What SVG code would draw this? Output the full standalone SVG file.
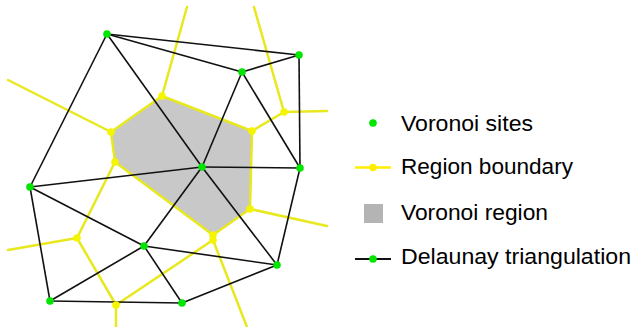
<svg xmlns="http://www.w3.org/2000/svg" width="634" height="327" viewBox="0 0 634 327">
<style>
.vor{stroke:#e8e81e;stroke-width:2.5;fill:none;stroke-linecap:round;stroke-linejoin:round}
.del{stroke:#111;stroke-width:1.6;fill:none}
.site{fill:#00e600}
.vv{fill:#f5f500}
.lbl{font-family:"Liberation Sans",Arial,sans-serif;font-size:22px;fill:#000}
</style>
<rect width="634" height="327" fill="#fff"/>
<g id="region">
<polygon points="162,96 252,131 250,209 213,235 115,162 111,132" fill="#c8c8c8"/>
</g>
<g id="voronoi-edges" class="vor">
<line x1="162" y1="96" x2="187" y2="7"/>
<line x1="111" y1="132" x2="8" y2="80"/>
<line x1="284" y1="112" x2="254" y2="7"/>
<line x1="284" y1="112" x2="327" y2="111"/>
<line x1="252" y1="131" x2="284" y2="112"/>
<polyline points="162,96 252,131 250,209 213,235 115,162 111,132 162,96"/>
<line x1="250" y1="209" x2="327" y2="226"/>
<line x1="115" y1="162" x2="77" y2="238"/>
<line x1="77" y1="238" x2="8" y2="250"/>
<line x1="77" y1="238" x2="116" y2="305"/>
<line x1="116" y1="305" x2="116" y2="327"/>
<line x1="116" y1="305" x2="213" y2="240"/>
<line x1="213" y1="235" x2="213" y2="240"/>
<line x1="213" y1="240" x2="247" y2="327"/>
</g>
<g id="delaunay-edges" class="del">
<line x1="107" y1="34" x2="299" y2="55"/>
<line x1="107" y1="34" x2="242" y2="72"/>
<line x1="107" y1="34" x2="202" y2="167"/>
<line x1="107" y1="34" x2="30" y2="187"/>
<line x1="242" y1="72" x2="299" y2="55"/>
<line x1="299" y1="55" x2="300" y2="168"/>
<line x1="242" y1="72" x2="202" y2="167"/>
<line x1="242" y1="72" x2="300" y2="168"/>
<line x1="202" y1="167" x2="300" y2="168"/>
<line x1="202" y1="167" x2="30" y2="187"/>
<line x1="202" y1="167" x2="144" y2="246"/>
<line x1="202" y1="167" x2="277" y2="265"/>
<line x1="30" y1="187" x2="144" y2="246"/>
<line x1="30" y1="187" x2="50" y2="301"/>
<line x1="144" y1="246" x2="277" y2="265"/>
<line x1="144" y1="246" x2="50" y2="301"/>
<line x1="144" y1="246" x2="182" y2="303"/>
<line x1="50" y1="301" x2="182" y2="303"/>
<line x1="182" y1="303" x2="277" y2="265"/>
<line x1="277" y1="265" x2="300" y2="168"/>
</g>
<g id="voronoi-vertices" class="vv">
<circle cx="162" cy="96" r="3.8"/>
<circle cx="111" cy="132" r="3.8"/>
<circle cx="115" cy="162" r="3.8"/>
<circle cx="252" cy="131" r="3.8"/>
<circle cx="284" cy="112" r="3.8"/>
<circle cx="250" cy="209" r="3.8"/>
<circle cx="213" cy="235" r="3.8"/>
<circle cx="213" cy="240" r="3.8"/>
<circle cx="77" cy="238" r="3.8"/>
<circle cx="116" cy="305" r="3.8"/>
</g>
<g id="sites" class="site">
<circle id="s1" cx="107" cy="34" r="3.8"/>
<circle id="s2" cx="299" cy="55" r="3.8"/>
<circle id="s3" cx="242" cy="72" r="3.8"/>
<circle id="s4" cx="202" cy="167" r="3.8"/>
<circle id="s5" cx="300" cy="168" r="3.8"/>
<circle id="s6" cx="30" cy="187" r="3.8"/>
<circle id="s7" cx="144" cy="246" r="3.8"/>
<circle id="s8" cx="277" cy="265" r="3.8"/>
<circle id="s9" cx="50" cy="301" r="3.8"/>
<circle id="s10" cx="182" cy="303" r="3.8"/>
</g>
<g id="legend">
<g id="legend-sites">
<circle cx="373" cy="123" r="3.8" class="site"/>
<text x="401" y="131" class="lbl" textLength="132" lengthAdjust="spacingAndGlyphs">Voronoi sites</text>
</g>
<g id="legend-boundary">
<line x1="355" y1="167.5" x2="391" y2="167.5" stroke="#ffee00" stroke-width="2.5"/>
<circle cx="373" cy="167.5" r="3.8" fill="#ffee00"/>
<text x="401" y="174" class="lbl" textLength="172" lengthAdjust="spacingAndGlyphs">Region boundary</text>
</g>
<g id="legend-region">
<rect x="364" y="204" width="19" height="19" fill="#b4b4b4"/>
<text x="401" y="220" class="lbl" textLength="147" lengthAdjust="spacingAndGlyphs">Voronoi region</text>
</g>
<g id="legend-delaunay">
<line x1="355" y1="259" x2="391" y2="259" stroke="#111" stroke-width="2"/>
<circle cx="373" cy="259" r="3.8" class="site"/>
<text x="401" y="264" class="lbl" textLength="230" lengthAdjust="spacingAndGlyphs">Delaunay triangulation</text>
</g>
</g>
</svg>
